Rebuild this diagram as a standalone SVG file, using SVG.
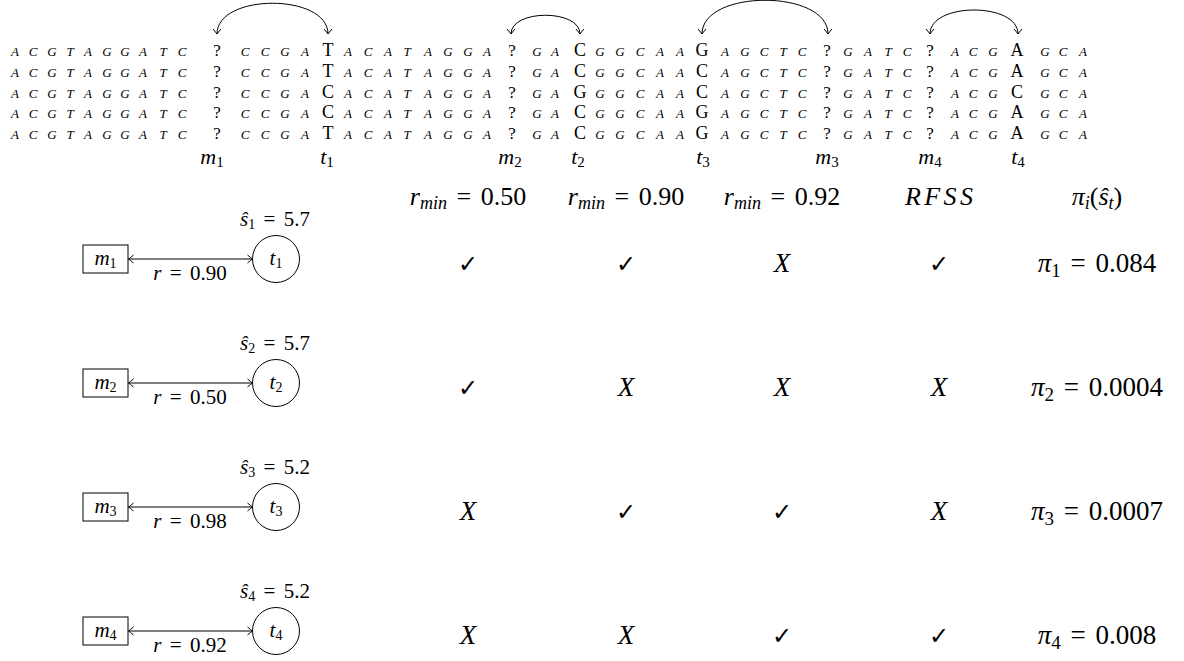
<svg xmlns="http://www.w3.org/2000/svg" width="1184" height="661" viewBox="0 0 1184 661">
<style>
text{font-family:"Liberation Serif","DejaVu Serif",serif;fill:#000}
.seq{font-size:13px;font-style:italic;text-anchor:middle}
.big{font-size:18px;font-style:normal}
.q{font-size:17px;font-style:normal}
.pl{font-size:22px;text-anchor:middle}
.psub{font-size:15px}
.lab{font-size:21px;text-anchor:middle}
.it{font-style:italic}
.sub{font-size:14px}
.hd{font-size:26px;text-anchor:middle}
.hsub{font-size:18px;font-style:italic}
.tv{font-size:27px;text-anchor:middle}
.tsub{font-size:19px}
.ck{font-family:"DejaVu Sans",sans-serif;font-size:24px;text-anchor:middle}
.edge{fill:none;stroke:#000;stroke-width:1}
.box{fill:#fff;stroke:#000;stroke-width:1}
</style>
<defs>
<marker id="tip" viewBox="-6 -5 7 10" refX="0" refY="0" markerWidth="7" markerHeight="10" markerUnits="userSpaceOnUse" orient="auto-start-reverse">
<path d="M-5,-4 Q-1.5,-1 0,0 Q-1.5,1 -5,4" fill="none" stroke="#000" stroke-width="1"/>
</marker>
</defs>

<g id="sequences">
<text class="seq" y="56" x="15 33 52 70 88 107 125 143 163 182 217 245 265 285 305 328 348 368 388 407 428 448 468 487 512 537 555 580 600 620 640 660 680 702 725 745 764 783 802 827 848 868 888 907 930 955 973 993 1017 1045 1063 1083">ACGTAGGATC<tspan class="q">?</tspan>CCGA<tspan class="big">T</tspan>ACATAGGA<tspan class="q">?</tspan>GA<tspan class="big">C</tspan>GGCAA<tspan class="big">G</tspan>AGCTC<tspan class="q">?</tspan>GATC<tspan class="q">?</tspan>ACG<tspan class="big">A</tspan>GCA</text>
<text class="seq" y="76.8" x="15 33 52 70 88 107 125 143 163 182 217 245 265 285 305 328 348 368 388 407 428 448 468 487 512 537 555 580 600 620 640 660 680 702 725 745 764 783 802 827 848 868 888 907 930 955 973 993 1017 1045 1063 1083">ACGTAGGATC<tspan class="q">?</tspan>CCGA<tspan class="big">T</tspan>ACATAGGA<tspan class="q">?</tspan>GA<tspan class="big">C</tspan>GGCAA<tspan class="big">C</tspan>AGCTC<tspan class="q">?</tspan>GATC<tspan class="q">?</tspan>ACG<tspan class="big">A</tspan>GCA</text>
<text class="seq" y="97.6" x="15 33 52 70 88 107 125 143 163 182 217 245 265 285 305 328 348 368 388 407 428 448 468 487 512 537 555 580 600 620 640 660 680 702 725 745 764 783 802 827 848 868 888 907 930 955 973 993 1017 1045 1063 1083">ACGTAGGATC<tspan class="q">?</tspan>CCGA<tspan class="big">C</tspan>ACATAGGA<tspan class="q">?</tspan>GA<tspan class="big">G</tspan>GGCAA<tspan class="big">C</tspan>AGCTC<tspan class="q">?</tspan>GATC<tspan class="q">?</tspan>ACG<tspan class="big">C</tspan>GCA</text>
<text class="seq" y="118.4" x="15 33 52 70 88 107 125 143 163 182 217 245 265 285 305 328 348 368 388 407 428 448 468 487 512 537 555 580 600 620 640 660 680 702 725 745 764 783 802 827 848 868 888 907 930 955 973 993 1017 1045 1063 1083">ACGTAGGATC<tspan class="q">?</tspan>CCGA<tspan class="big">C</tspan>ACATAGGA<tspan class="q">?</tspan>GA<tspan class="big">C</tspan>GGCAA<tspan class="big">G</tspan>AGCTC<tspan class="q">?</tspan>GATC<tspan class="q">?</tspan>ACG<tspan class="big">A</tspan>GCA</text>
<text class="seq" y="139.2" x="15 33 52 70 88 107 125 143 163 182 217 245 265 285 305 328 348 368 388 407 428 448 468 487 512 537 555 580 600 620 640 660 680 702 725 745 764 783 802 827 848 868 888 907 930 955 973 993 1017 1045 1063 1083">ACGTAGGATC<tspan class="q">?</tspan>CCGA<tspan class="big">T</tspan>ACATAGGA<tspan class="q">?</tspan>GA<tspan class="big">C</tspan>GGCAA<tspan class="big">G</tspan>AGCTC<tspan class="q">?</tspan>GATC<tspan class="q">?</tspan>ACG<tspan class="big">A</tspan>GCA</text>
</g>

<g id="position-labels">
<text class="pl" x="212" y="164"><tspan class="it">m</tspan><tspan class="psub" dy="3">1</tspan></text>
<text class="pl" x="327" y="164"><tspan class="it">t</tspan><tspan class="psub" dy="3">1</tspan></text>
<text class="pl" x="510" y="164"><tspan class="it">m</tspan><tspan class="psub" dy="3">2</tspan></text>
<text class="pl" x="578" y="164"><tspan class="it">t</tspan><tspan class="psub" dy="3">2</tspan></text>
<text class="pl" x="703" y="164"><tspan class="it">t</tspan><tspan class="psub" dy="3">3</tspan></text>
<text class="pl" x="827" y="164"><tspan class="it">m</tspan><tspan class="psub" dy="3">3</tspan></text>
<text class="pl" x="930" y="164"><tspan class="it">m</tspan><tspan class="psub" dy="3">4</tspan></text>
<text class="pl" x="1018" y="164"><tspan class="it">t</tspan><tspan class="psub" dy="3">4</tspan></text>
</g>

<g id="connectors">
<path class="edge" marker-start="url(#tip)" marker-end="url(#tip)" d="M217,34 C217,-7 328,-7 328,34"/>
<path class="edge" marker-start="url(#tip)" marker-end="url(#tip)" d="M511,34 C511,9 580,9 580,34"/>
<path class="edge" marker-start="url(#tip)" marker-end="url(#tip)" d="M702,34 C702,-11 828,-11 828,34"/>
<path class="edge" marker-start="url(#tip)" marker-end="url(#tip)" d="M930,34 C930,2 1018,2 1018,34"/>
<line class="edge" marker-start="url(#tip)" marker-end="url(#tip)" x1="128.5" y1="259" x2="252.5" y2="259"/>
<line class="edge" marker-start="url(#tip)" marker-end="url(#tip)" x1="128.5" y1="383" x2="252.5" y2="383"/>
<line class="edge" marker-start="url(#tip)" marker-end="url(#tip)" x1="128.5" y1="507" x2="252.5" y2="507"/>
<line class="edge" marker-start="url(#tip)" marker-end="url(#tip)" x1="128.5" y1="631" x2="252.5" y2="631"/>
<text class="lab" x="190" y="280"><tspan class="it">r</tspan><tspan dx="3"> =</tspan><tspan dx="3"> 0.90</tspan></text>
<text class="lab" x="190" y="404"><tspan class="it">r</tspan><tspan dx="3"> =</tspan><tspan dx="3"> 0.50</tspan></text>
<text class="lab" x="190" y="528"><tspan class="it">r</tspan><tspan dx="3"> =</tspan><tspan dx="3"> 0.98</tspan></text>
<text class="lab" x="190" y="652"><tspan class="it">r</tspan><tspan dx="3"> =</tspan><tspan dx="3"> 0.92</tspan></text>
</g>

<g id="m1"><rect class="box" x="83" y="245" width="45" height="28"/><text class="lab" x="105.5" y="265"><tspan class="it">m</tspan><tspan class="sub" dy="3">1</tspan></text></g>
<g id="t1"><circle class="box" cx="276" cy="259" r="23.5"/><text class="lab" x="276" y="265"><tspan class="it">t</tspan><tspan class="sub" dy="3">1</tspan></text><text class="lab" x="275" y="226"><tspan class="it">ŝ</tspan><tspan class="sub" dy="3">1</tspan><tspan dy="-3" dx="3"> =</tspan><tspan dx="3"> 5.7</tspan></text></g>
<g id="m2"><rect class="box" x="83" y="369" width="45" height="28"/><text class="lab" x="105.5" y="389"><tspan class="it">m</tspan><tspan class="sub" dy="3">2</tspan></text></g>
<g id="t2"><circle class="box" cx="276" cy="383" r="23.5"/><text class="lab" x="276" y="389"><tspan class="it">t</tspan><tspan class="sub" dy="3">2</tspan></text><text class="lab" x="275" y="350"><tspan class="it">ŝ</tspan><tspan class="sub" dy="3">2</tspan><tspan dy="-3" dx="3"> =</tspan><tspan dx="3"> 5.7</tspan></text></g>
<g id="m3"><rect class="box" x="83" y="493" width="45" height="28"/><text class="lab" x="105.5" y="513"><tspan class="it">m</tspan><tspan class="sub" dy="3">3</tspan></text></g>
<g id="t3"><circle class="box" cx="276" cy="507" r="23.5"/><text class="lab" x="276" y="513"><tspan class="it">t</tspan><tspan class="sub" dy="3">3</tspan></text><text class="lab" x="275" y="474"><tspan class="it">ŝ</tspan><tspan class="sub" dy="3">3</tspan><tspan dy="-3" dx="3"> =</tspan><tspan dx="3"> 5.2</tspan></text></g>
<g id="m4"><rect class="box" x="83" y="617" width="45" height="28"/><text class="lab" x="105.5" y="637"><tspan class="it">m</tspan><tspan class="sub" dy="3">4</tspan></text></g>
<g id="t4"><circle class="box" cx="276" cy="631" r="23.5"/><text class="lab" x="276" y="637"><tspan class="it">t</tspan><tspan class="sub" dy="3">4</tspan></text><text class="lab" x="275" y="598"><tspan class="it">ŝ</tspan><tspan class="sub" dy="3">4</tspan><tspan dy="-3" dx="3"> =</tspan><tspan dx="3"> 5.2</tspan></text></g>

<g id="table-header">
<text class="hd" x="468" y="205"><tspan class="it">r</tspan><tspan class="hsub" dy="4">min</tspan><tspan dy="-4" dx="3"> =</tspan><tspan dx="3"> 0.50</tspan></text>
<text class="hd" x="626" y="205"><tspan class="it">r</tspan><tspan class="hsub" dy="4">min</tspan><tspan dy="-4" dx="3"> =</tspan><tspan dx="3"> 0.90</tspan></text>
<text class="hd" x="782" y="205"><tspan class="it">r</tspan><tspan class="hsub" dy="4">min</tspan><tspan dy="-4" dx="3"> =</tspan><tspan dx="3"> 0.92</tspan></text>
<text class="hd it" x="939" y="205" textLength="68">RFSS</text>
<text class="hd" x="1097" y="205"><tspan class="it">π</tspan><tspan class="hsub" dy="4">i</tspan><tspan dy="-4">(</tspan><tspan class="it">ŝ</tspan><tspan class="hsub" dy="4">t</tspan><tspan dy="-4">)</tspan></text>
</g>

<g id="table-rows">
<text class="ck" x="468" y="272">✓</text><text class="ck" x="626" y="272">✓</text><text class="tv it" x="782" y="272">X</text><text class="ck" x="939" y="272">✓</text>
<text class="tv" x="1097" y="272"><tspan class="it">π</tspan><tspan class="tsub" dy="5">1</tspan><tspan dy="-5" dx="3"> =</tspan><tspan dx="3"> 0.084</tspan></text>
<text class="ck" x="468" y="396">✓</text><text class="tv it" x="626" y="396">X</text><text class="tv it" x="782" y="396">X</text><text class="tv it" x="939" y="396">X</text>
<text class="tv" x="1097" y="396"><tspan class="it">π</tspan><tspan class="tsub" dy="5">2</tspan><tspan dy="-5" dx="3"> =</tspan><tspan dx="3"> 0.0004</tspan></text>
<text class="tv it" x="468" y="520">X</text><text class="ck" x="626" y="520">✓</text><text class="ck" x="782" y="520">✓</text><text class="tv it" x="939" y="520">X</text>
<text class="tv" x="1097" y="520"><tspan class="it">π</tspan><tspan class="tsub" dy="5">3</tspan><tspan dy="-5" dx="3"> =</tspan><tspan dx="3"> 0.0007</tspan></text>
<text class="tv it" x="468" y="644">X</text><text class="tv it" x="626" y="644">X</text><text class="ck" x="782" y="644">✓</text><text class="ck" x="939" y="644">✓</text>
<text class="tv" x="1097" y="644"><tspan class="it">π</tspan><tspan class="tsub" dy="5">4</tspan><tspan dy="-5" dx="3"> =</tspan><tspan dx="3"> 0.008</tspan></text>
</g>
</svg>
